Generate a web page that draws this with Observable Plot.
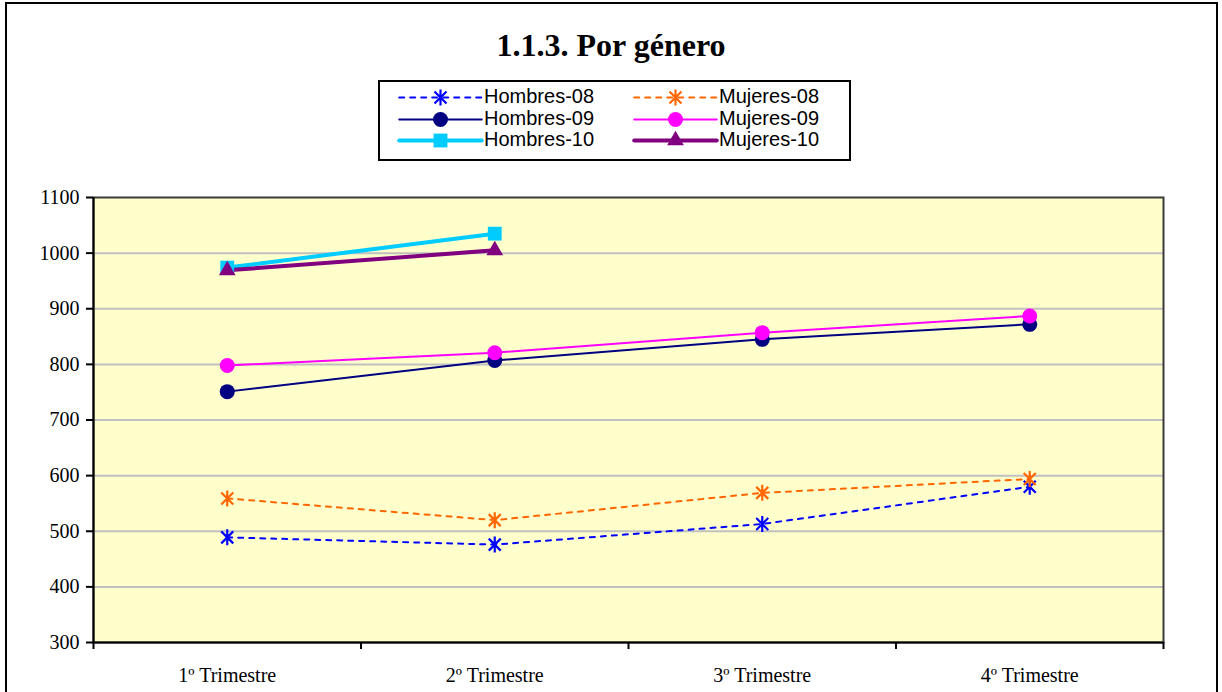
<!DOCTYPE html>
<html>
<head>
<meta charset="utf-8">
<script src="https://cdn.jsdelivr.net/npm/d3@7"></script>
<script src="https://cdn.jsdelivr.net/npm/@observablehq/plot@0.6"></script>
<style>
  html, body { margin: 0; padding: 0; background: #fff; }
  #page { position: relative; width: 1222px; height: 692px; overflow: hidden; }
  #border { position: absolute; left: 5px; top: 2px; width: 1213px; height: 700px;
            border: 2px solid #000; border-bottom: none; box-sizing: border-box; }
  #title { position: absolute; left: 0; width: 1222px; top: 27px; text-align: center;
           font: bold 32px "Liberation Serif", "Times New Roman", serif; color: #000; }
  #legend { position: absolute; left: 378px; top: 80px; width: 473px; height: 81px;
            border: 2px solid #000; box-sizing: border-box; background: #fff; }
  .lg-item { position: absolute; height: 22px; width: 220px; }
  .lg-item svg { position: absolute; left: 0; top: 0; max-width: none !important; }
  .lg-item span { position: absolute; top: -1px; font: 20px "Liberation Sans", Arial, sans-serif;
                  color: #000; white-space: nowrap; line-height: 22px; }
  #chart { position: absolute; left: 0; top: 0; }
</style>
</head>
<body>
<div id="page">
  <div id="chart"></div>
  <div id="border"></div>
  <div id="title">1.1.3. Por género</div>
  <div id="legend"></div>
</div>
<script>
// ---- data ----
const categories = ["1º Trimestre", "2º Trimestre", "3º Trimestre", "4º Trimestre"];
const seriesNames = ["Hombres-08", "Mujeres-08", "Hombres-09", "Mujeres-09", "Hombres-10", "Mujeres-10"];
const hombres08 = [489, 476, 513, 580];
const mujeres08 = [559, 520, 569, 594];
const hombres09 = [751, 807, 845, 872];
const mujeres09 = [798, 821, 857, 887];
const hombres10 = [974, 1035];
const mujeres10 = [969, 1005];
const yTicks = [300, 400, 500, 600, 700, 800, 900, 1000, 1100];

// ---- styles ----
const asterisk = {
  draw(ctx, size) {
    const r = Math.sqrt(size / Math.PI);
    const d = r * 0.75;
    ctx.moveTo(0, -r); ctx.lineTo(0, r);
    ctx.moveTo(-d, -d); ctx.lineTo(d, d);
    ctx.moveTo(-d, d); ctx.lineTo(d, -d);
  }
};
const styles = {
  "Hombres-08": {color: "#0000FF", width: 2, dash: "5,6", symbol: asterisk, r: 8, stroked: true},
  "Mujeres-08": {color: "#FF6600", width: 2, dash: "5,6", symbol: asterisk, r: 8, stroked: true},
  "Hombres-09": {color: "#000080", width: 2, dash: null, symbol: "circle", r: 7.5},
  "Mujeres-09": {color: "#FF00FF", width: 2, dash: null, symbol: "circle", r: 7.5},
  "Hombres-10": {color: "#00CCFF", width: 4, dash: null, symbol: "square", r: 7.8},
  "Mujeres-10": {color: "#800080", width: 4, dash: null, symbol: "triangle", r: 6.2}
};
const valuesBySeries = {
  "Hombres-08": hombres08, "Mujeres-08": mujeres08,
  "Hombres-09": hombres09, "Mujeres-09": mujeres09,
  "Hombres-10": hombres10, "Mujeres-10": mujeres10
};
const rows = name => valuesBySeries[name].map((v, i) => ({serie: name, x: i + 0.5, v}));

const marks = [
  Plot.frame({fill: "#FFFFCC", stroke: null}),
  Plot.ruleY(yTicks.slice(1, -1), {stroke: "#C0C0C0", strokeWidth: 2}),
];
for (const name of seriesNames) {
  const s = styles[name];
  marks.push(Plot.line(rows(name), {x: "x", y: "v", stroke: s.color, strokeWidth: s.width,
    strokeDasharray: s.dash || undefined, curve: "linear"}));
}
for (const name of seriesNames) {
  const s = styles[name];
  marks.push(Plot.dot(rows(name), {x: "x", y: "v", symbol: s.symbol, r: s.r,
    fill: s.stroked ? "none" : s.color, stroke: s.stroked ? s.color : "none",
    strokeWidth: s.stroked ? 2.2 : 0}));
}
marks.push(
  Plot.frame({stroke: "#3a3a3a", strokeWidth: 2}),
  Plot.ruleX([0], {stroke: "#000", strokeWidth: 2}),
  Plot.ruleY([300], {stroke: "#000", strokeWidth: 2}),
  Plot.axisY({ticks: yTicks, tickSize: 7, tickPadding: 7, tickFormat: d => String(d),
    stroke: "#000", strokeWidth: 2, label: null, color: "#000"}),
  Plot.axisX({ticks: [0, 1, 2, 3, 4], tickSize: 7, tickFormat: () => "", strokeWidth: 2, label: null}),
  Plot.axisX({ticks: categories.map((c, i) => i + 0.5), tickSize: 0, tickPadding: 25,
    tickFormat: d => categories[Math.round(d - 0.5)], label: null})
);

const chart = Plot.plot({
  width: 1222, height: 692,
  marginLeft: 93, marginRight: 59, marginTop: 197, marginBottom: 50,
  style: {background: "transparent", color: "#000", overflow: "visible",
          fontSize: "20px", fontFamily: "Liberation Serif, Times New Roman, serif"},
  x: {type: "linear", domain: [0, 4]},
  y: {domain: [300, 1100]},
  marks
});
document.getElementById("chart").appendChild(chart);

// ---- legend ----
const legend = document.getElementById("legend");
const legendPos = [
  {name: "Hombres-08", col: 0, row: 0}, {name: "Mujeres-08", col: 1, row: 0},
  {name: "Hombres-09", col: 0, row: 1}, {name: "Mujeres-09", col: 1, row: 1},
  {name: "Hombres-10", col: 0, row: 2}, {name: "Mujeres-10", col: 1, row: 2}
];
for (const p of legendPos) {
  const s = styles[p.name];
  const item = document.createElement("div");
  item.className = "lg-item";
  item.style.left = (p.col === 0 ? 17 : 252) + "px";
  item.style.top = (4 + p.row * 21.5) + "px";
  const sw = Plot.plot({
    width: 86, height: 22, margin: 0,
    style: {background: "transparent", overflow: "visible"},
    x: {domain: [0, 1], axis: null}, y: {domain: [0, 1], axis: null},
    marks: [
      Plot.line([{x: 0.02, y: 0.5}, {x: 0.98, y: 0.5}], {x: "x", y: "y", stroke: s.color,
        strokeWidth: s.width, strokeDasharray: s.dash || undefined}),
      Plot.dot([{x: 0.5, y: 0.5}], {x: "x", y: "y", symbol: s.symbol, r: s.r,
        fill: s.stroked ? "none" : s.color, stroke: s.stroked ? s.color : "none",
        strokeWidth: s.stroked ? 2.2 : 0})
    ]
  });
  item.appendChild(sw);
  const label = document.createElement("span");
  label.textContent = p.name;
  label.style.left = "87px";
  item.appendChild(label);
  legend.appendChild(item);
}
</script>
</body>
</html>
